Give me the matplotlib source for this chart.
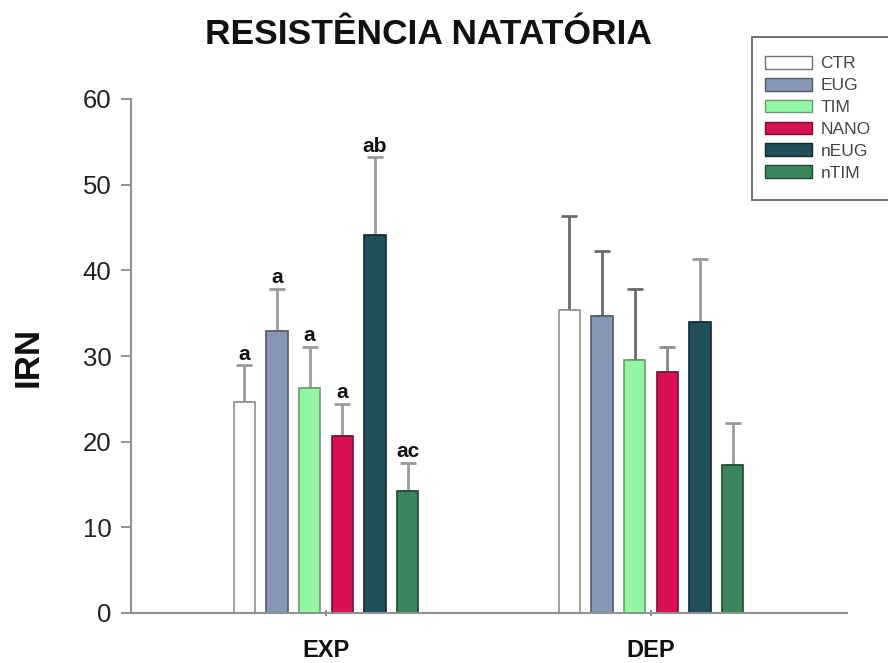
import matplotlib
matplotlib.use("Agg")
import matplotlib.pyplot as plt
import numpy as np
from matplotlib.patches import Patch, Rectangle

plt.rcParams['font.family'] = ['Liberation Sans', 'DejaVu Sans']

groups = ["EXP", "DEP"]
series = ["CTR", "EUG", "TIM", "NANO", "nEUG", "nTIM"]
means = {
    "CTR":  [24.6, 35.4],
    "EUG":  [32.9, 34.7],
    "TIM":  [26.3, 29.5],
    "NANO": [20.7, 28.1],
    "nEUG": [44.1, 34.0],
    "nTIM": [14.2, 17.3],
}
errors = {
    "CTR":  [4.3, 11.0],
    "EUG":  [4.9, 7.6],
    "TIM":  [4.8, 8.3],
    "NANO": [3.7, 2.9],
    "nEUG": [9.1, 7.3],
    "nTIM": [3.3, 4.9],
}
exp_letters = ["a", "a", "a", "a", "ab", "ac"]

colors = ["#FFFFFF", "#8796B4", "#92F7A2", "#D81055", "#1F4F5B", "#3A8559"]
edges = ["#909090", "#505A6A", "#6A9A70", "#7A1030", "#102A30", "#1E4A30"]
err_colors = {
    0: ["#9A9A9A", "#6A6A6A"],
    1: ["#9A9A9A", "#6A6A6A"],
    2: ["#9A9A9A", "#6A6A6A"],
    3: ["#9A9A9A", "#8A8A8A"],
    4: ["#9A9A9A", "#9A9A9A"],
    5: ["#9A9A9A", "#9A9A9A"],
}

fig = plt.figure(figsize=(8.88, 6.63), dpi=100)
ax = fig.add_axes([131/888, 1-613/663, (847-131)/888, (613-99)/663])

x = np.arange(len(groups))
step = 0.1006
width = 0.065
for i, s in enumerate(series):
    pos = x + (i - 2.5) * step
    ax.bar(pos, means[s], width, color=colors[i], edgecolor=edges[i], linewidth=1.2, zorder=2)
    for g in range(len(groups)):
        ax.errorbar(pos[g], means[s][g], yerr=[[0], [errors[s][g]]], fmt='none',
                    ecolor=err_colors[i][g], elinewidth=2, capsize=6, capthick=2, zorder=1)
    top = means[s][0] + errors[s][0]
    ax.text(pos[0], top + 0.2, exp_letters[i], ha='center', va='bottom',
            fontsize=15, fontweight='bold', color='#111111')

ax.set_xlim(-0.6, 1.603)
ax.set_ylim(0, 60)
ax.set_yticks(range(0, 61, 10))
ax.set_xticks(x)
ax.set_xticklabels(groups, fontsize=17, fontweight='bold', color='#111111')
ax.tick_params(axis='y', labelsize=18.5, colors='#808080', labelcolor='#222222', length=7, width=1.2, pad=7)
ax.tick_params(axis='x', colors='#808080', labelcolor='#111111', length=4, width=1.2, direction='inout', pad=17)
for sp in ['top', 'right']:
    ax.spines[sp].set_visible(False)
for sp in ['left', 'bottom']:
    ax.spines[sp].set_color('#909090')
    ax.spines[sp].set_linewidth(1.5)

fig.text(28/888, 1-357/663, "IRN", rotation=90, ha='center', va='center',
         fontsize=25, fontweight='bold', color='#111111')

fig.text(428/888, 1-34/663, "RESISTÊNCIA NATATÓRIA", ha='center', va='center',
         fontsize=25.5, fontweight='bold', color='#111111')

# legend frame
fig.patches.append(Rectangle((752/888, 1-200/663), (895-752)/888, (200-37)/663,
                             transform=fig.transFigure, facecolor='white',
                             edgecolor='#707070', linewidth=1.4, zorder=0))
handles = [Patch(facecolor=colors[i], edgecolor=edges[i] if i else '#707070', label=s)
           for i, s in enumerate(series)]
leg = fig.legend(handles=handles, loc='upper left', bbox_to_anchor=(765/888, 1-56/663),
                 fontsize=12.5, frameon=False, handlelength=2.7, handleheight=0.75,
                 labelspacing=0.37, handletextpad=0.5, borderpad=0, borderaxespad=0)
for t in leg.get_texts():
    t.set_color('#444444')

fig.savefig("out.png", dpi=100)
